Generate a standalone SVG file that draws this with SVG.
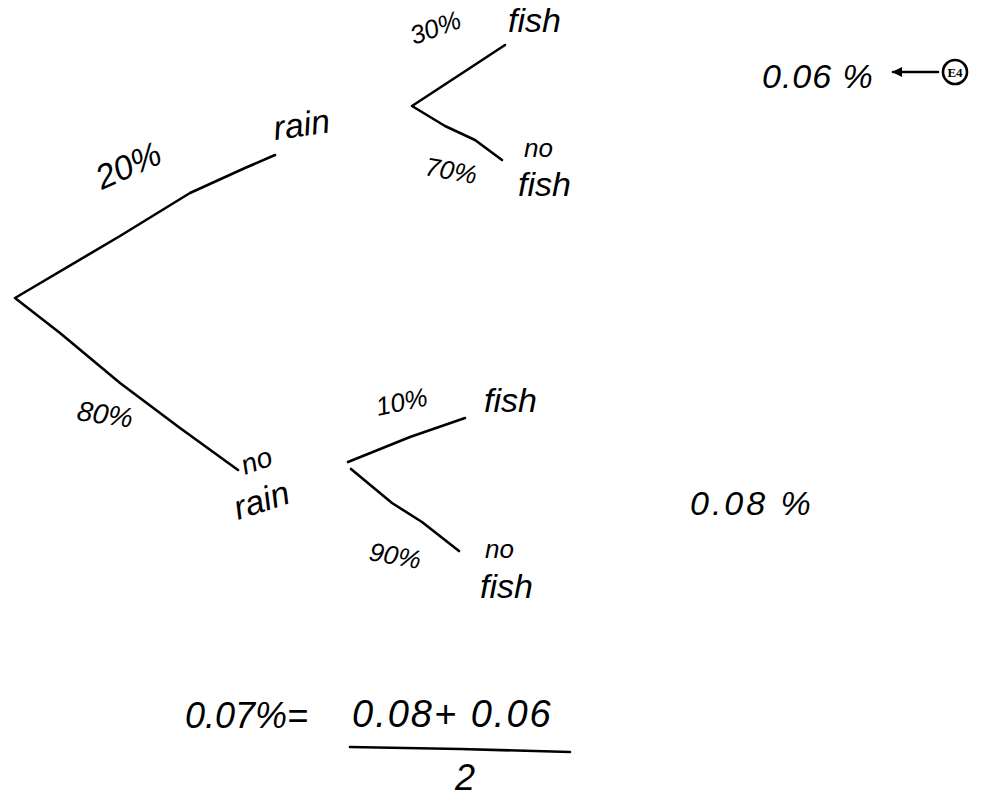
<svg xmlns="http://www.w3.org/2000/svg" width="984" height="801" viewBox="0 0 984 801">
<defs>
<style>
.t{font-family:"Liberation Sans","DejaVu Sans",sans-serif;font-style:italic;fill:#000}
.b{font-size:34px}
.m{font-size:28px}
.s{font-size:26px}
.ln{fill:none;stroke:#000;stroke-width:2.6;stroke-linecap:round;stroke-linejoin:round}
</style>
<marker id="ah" viewBox="0 0 10 10" refX="9" refY="5" markerWidth="12" markerHeight="10" orient="auto" markerUnits="userSpaceOnUse">
<path d="M0,0 L10,5 L0,10 z" fill="#000"/>
</marker>
</defs>
<rect width="984" height="801" fill="#fff"/>
<g id="connectors">
<path class="ln" d="M275,155 L245,168 L190,193 L120,236 L15,298 L60,333 L120,383 L180,428 L238,470"/>
<path class="ln" d="M505,45 L470,68 L412,106 L445,126 L475,140 L502,160"/>
<path class="ln" d="M465,418 L410,437 L348,462"/>
<path class="ln" d="M351,469 L392,503 L422,522 L459,551"/>
<path class="ln" d="M350,747 L460,749 L570,752"/>
<line class="ln" x1="938" y1="72" x2="893" y2="72" marker-end="url(#ah)" stroke-width="2.6"/>
</g>
<g id="rain"><text class="t b" x="275" y="140" transform="rotate(-8 275 140)">rain</text></g>
<g id="rain-fish"><text class="t b" x="508" y="32">fish</text></g>
<g id="rain-nofish"><text class="t s" x="524" y="157">no</text><text class="t b" x="518" y="196">fish</text></g>
<g id="norain"><text class="t m" x="245" y="475" transform="rotate(-20 245 475)">no</text><text class="t b" x="238" y="520" transform="rotate(-18 238 520)">rain</text></g>
<g id="norain-fish"><text class="t b" x="484" y="412">fish</text></g>
<g id="norain-nofish"><text class="t s" x="485" y="558">no</text><text class="t b" x="480" y="598">fish</text></g>
<g id="labels">
<text class="t b" x="102" y="190" transform="rotate(-24 102 190)">20%</text>
<text class="t s" x="414" y="45" transform="rotate(-20 414 45)">30%</text>
<text class="t s" x="424" y="175" transform="rotate(10 424 175)">70%</text>
<text class="t m" x="76" y="420" transform="rotate(8 76 420)">80%</text>
<text class="t s" x="378" y="416" transform="rotate(-12 378 416)">10%</text>
<text class="t s" x="368" y="560" transform="rotate(10 368 560)">90%</text>
</g>
<g id="result-rain"><text class="t b" x="762" y="88" letter-spacing="1">0.06 %</text>
<circle cx="955" cy="72" r="12" fill="none" stroke="#000" stroke-width="2.6"/>
<text x="955" y="77" text-anchor="middle" font-family="Liberation Serif,serif" font-weight="bold" font-size="13">E4</text></g>
<g id="result-norain"><text class="t b" x="690" y="515" letter-spacing="3">0.08 %</text></g>
<g id="formula">
<text class="t" x="185" y="728" font-size="36">0.07%=</text>
<text class="t" x="352" y="727" font-size="38" letter-spacing="2">0.08+ 0.06</text>
<text class="t" x="455" y="790" font-size="36">2</text>
</g>
</svg>
